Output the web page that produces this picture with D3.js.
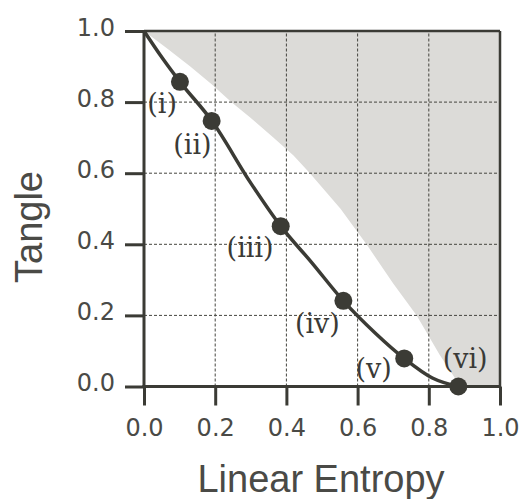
<!DOCTYPE html>
<html>
<head>
<meta charset="utf-8">
<script src="https://cdn.jsdelivr.net/npm/d3@7"></script>
<style>
  html, body { margin: 0; padding: 0; background: #ffffff; }
  svg { display: block; }
</style>
</head>
<body>
<svg id="chart" width="523" height="499"></svg>
<script>
// ---- data ----
const xTicks = [0.0, 0.2, 0.4, 0.6, 0.8, 1.0];
const yTicks = [0.0, 0.2, 0.4, 0.6, 0.8, 1.0];
const xTitle = "Linear Entropy";
const yTitle = "Tangle";

// state curve (dark line)
const curveX = [0.0, 0.05, 0.101, 0.19, 0.30, 0.384, 0.47, 0.56, 0.65, 0.731, 0.81, 0.883];
const curveY = [1.0, 0.926, 0.857, 0.748, 0.572, 0.451, 0.350, 0.241, 0.150, 0.079, 0.024, 0.0];

// marked states
const pointNames = ["(i)", "(ii)", "(iii)", "(iv)", "(v)", "(vi)"];
const pointX = [0.101, 0.190, 0.384, 0.560, 0.731, 0.883];
const pointY = [0.857, 0.747, 0.451, 0.241, 0.079, 0.0];
// label anchors (data units)
const labelX = [0.051, 0.136, 0.298, 0.487, 0.645, 0.902];
const labelY = [0.793, 0.679, 0.388, 0.173, 0.049, 0.075];

// boundary of the forbidden (grey) region
const boundX = [0.0, 0.066, 0.130, 0.190, 0.245, 0.300, 0.364, 0.420, 0.466, 0.552, 0.593, 0.625, 0.700, 0.766, 0.830, 0.889];
const boundY = [1.0, 0.950, 0.900, 0.850, 0.800, 0.755, 0.700, 0.650, 0.600, 0.500, 0.444, 0.400, 0.290, 0.200, 0.090, 0.0];

// ---- drawing ----
const svg = d3.select("#chart");
const x = d3.scaleLinear().domain([0, 1]).range([144, 500]);
const y = d3.scaleLinear().domain([0, 1]).range([386.5, 31]);

const ink = "#3b3b35";

// grey region
const bPts = boundX.map((d, i) => [d, boundY[i]]);
const bPath = d3.line().x(d => x(d[0])).y(d => y(d[1])).curve(d3.curveLinear)(bPts);
svg.append("path")
  .attr("d", bPath + "L" + x(1) + "," + y(0) + "L" + x(1) + "," + y(1) + "Z")
  .attr("fill", "#dcdbd8")
  .attr("stroke", "none");

// grid
const grid = svg.append("g").attr("stroke", "#45453f").attr("stroke-width", 1)
  .attr("stroke-dasharray", "3,2").attr("fill", "none");
xTicks.filter(t => t > 0 && t < 1).forEach(t => {
  grid.append("line").attr("x1", x(t)).attr("x2", x(t)).attr("y1", y(0)).attr("y2", y(1));
});
yTicks.filter(t => t > 0 && t < 1).forEach(t => {
  grid.append("line").attr("x1", x(0)).attr("x2", x(1)).attr("y1", y(t)).attr("y2", y(t));
});

// axes
const fmt = d3.format(".1f");
const gy = svg.append("g").attr("transform", `translate(${x(0)},0)`)
  .call(d3.axisLeft(y).tickValues(yTicks).tickFormat(fmt).tickSize(19).tickPadding(10));
const gx = svg.append("g").attr("transform", `translate(0,${y(0)})`)
  .call(d3.axisBottom(x).tickValues(xTicks).tickFormat(fmt).tickSize(19).tickPadding(13));
[gx, gy].forEach(g => {
  g.select(".domain").remove();
  g.selectAll(".tick line").attr("stroke", ink).attr("stroke-width", 3);
  g.selectAll(".tick text")
    .attr("fill", "#4a4a46")
    .attr("font-family", "'DejaVu Sans', Verdana, sans-serif")
    .attr("font-size", 24);
});
gy.selectAll(".tick text").attr("dy", null).attr("dy", "4px");
gx.selectAll(".tick text").attr("dy", null).attr("y", 49.5);

// frame
svg.append("line").attr("x1", x(0)).attr("x2", x(1)).attr("y1", y(1)).attr("y2", y(1))
  .attr("stroke", ink).attr("stroke-width", 2.5);
svg.append("line").attr("x1", x(1)).attr("x2", x(1)).attr("y1", y(0)).attr("y2", y(1))
  .attr("stroke", ink).attr("stroke-width", 2.5);
svg.append("line").attr("x1", x(0)).attr("x2", x(0)).attr("y1", y(0) + 1.5).attr("y2", y(1) - 1)
  .attr("stroke", ink).attr("stroke-width", 3);
svg.append("line").attr("x1", x(0) - 1.5).attr("x2", x(1) + 1).attr("y1", y(0)).attr("y2", y(0))
  .attr("stroke", ink).attr("stroke-width", 3);

// state curve
const cPts = curveX.map((d, i) => [d, curveY[i]]);
svg.append("path")
  .attr("d", d3.line().x(d => x(d[0])).y(d => y(d[1])).curve(d3.curveMonotoneX)(cPts))
  .attr("fill", "none").attr("stroke", ink).attr("stroke-width", 3.5);

// points
svg.append("g").selectAll("circle").data(pointX).join("circle")
  .attr("cx", (d) => x(d)).attr("cy", (d, i) => y(pointY[i])).attr("r", 9)
  .attr("fill", ink);

// labels
svg.append("g").selectAll("text").data(pointNames).join("text")
  .attr("x", (d, i) => x(labelX[i])).attr("y", (d, i) => y(labelY[i]) + 8.5)
  .attr("text-anchor", "middle")
  .attr("font-family", "'DejaVu Serif', serif")
  .attr("font-size", 27)
  .attr("fill", "#3a3a36")
  .text(d => d);

// titles
svg.append("text").attr("x", 321).attr("y", 492).attr("text-anchor", "middle")
  .attr("font-family", "'Liberation Sans', Arial, sans-serif").attr("font-size", 38)
  .attr("fill", "#4a4a46").text(xTitle);
svg.append("text").attr("transform", "translate(42,227) rotate(-90)").attr("text-anchor", "middle")
  .attr("font-family", "'Liberation Sans', Arial, sans-serif").attr("font-size", 38)
  .attr("fill", "#4a4a46").text(yTitle);
</script>
</body>
</html>
